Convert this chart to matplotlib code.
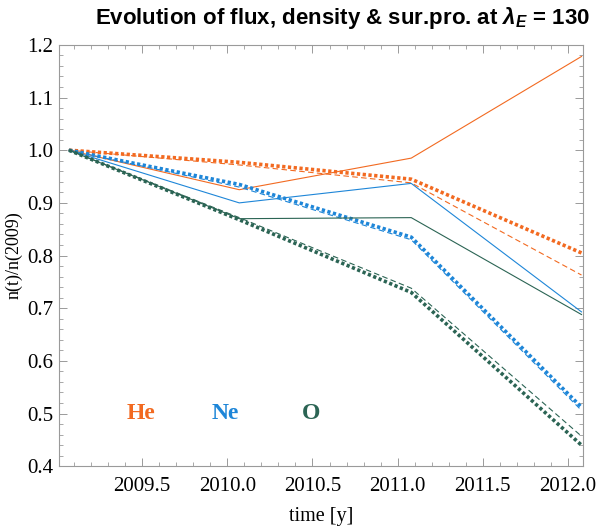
import matplotlib.pyplot as plt
from matplotlib.ticker import MultipleLocator

plt.rcParams['font.family'] = ['Liberation Serif', 'DejaVu Serif']
plt.rcParams['mathtext.fontset'] = 'custom'
plt.rcParams['mathtext.rm'] = 'Liberation Sans:bold'
plt.rcParams['mathtext.it'] = 'Liberation Sans:bold:italic'
plt.rcParams['mathtext.bf'] = 'Liberation Sans:bold'

# time of each observation
tiempos = [2009.07, 2010.07, 2011.08, 2012.08]

# He
he_flux = [1.0, 0.925, 0.985, 1.178]
he_dens = [1.0, 0.972, 0.938, 0.763]
he_surp = [1.0, 0.977, 0.945, 0.805]

# Ne
ne_flux = [1.0, 0.900, 0.937, 0.693]
ne_dens = [1.0, 0.930, 0.830, 0.506]
ne_surp = [1.0, 0.935, 0.835, 0.512]

# O
o_flux = [1.0, 0.870, 0.872, 0.688]
o_dens = [1.0, 0.872, 0.738, 0.457]
o_surp = [1.0, 0.868, 0.730, 0.440]

elementos = ['He', 'Ne', 'O']
colores = ['#F26A21', '#1E86D8', '#2B6454']
pos_etiqueta = [2009.49, 2009.99, 2010.49]

series = [
    (he_flux, he_dens, he_surp),
    (ne_flux, ne_dens, ne_surp),
    (o_flux, o_dens, o_surp),
]

fig = plt.figure(figsize=(6.0, 5.28), dpi=100)
ax = fig.add_axes([0.098, 0.117, 0.874, 0.798])

for (flux, dens, surp), color in zip(series, colores):
    ax.plot(tiempos, flux, color=color, lw=0.8)
    ax.plot(tiempos, dens, color=color, lw=0.8, linestyle=(0, (5, 3)))
    ax.plot(tiempos, surp, color=color, lw=2.6, linestyle=(0, (0.9, 0.7)))

for nombre, color, xpos in zip(elementos, colores, pos_etiqueta):
    ax.text(xpos, 0.5, nombre, color=color, fontsize=17, fontweight='bold',
            ha='center', va='center')

ax.set_xlim(2009.01, 2012.09)
ax.set_ylim(0.4, 1.2)
ax.xaxis.set_major_locator(MultipleLocator(0.5))
ax.xaxis.set_minor_locator(MultipleLocator(0.1))
ax.yaxis.set_major_locator(MultipleLocator(0.1))
ax.yaxis.set_minor_locator(MultipleLocator(0.02))
ax.xaxis.set_major_formatter(plt.FormatStrFormatter('%.1f'))
ax.yaxis.set_major_formatter(plt.FormatStrFormatter('%.1f'))

for s in ax.spines.values():
    s.set_color('#9a9a9a')
    s.set_linewidth(0.8)
ax.tick_params(which='both', direction='in', top=True, right=True,
               color='#9a9a9a', labelsize=15)
ax.tick_params(which='major', length=6, width=0.7)
ax.tick_params(which='minor', length=3, width=0.6)
ax.tick_params(axis='x', pad=7.5)
ax.tick_params(axis='y', pad=4)

ax.set_xlabel('time [y]', fontsize=14.5, labelpad=8)
ax.set_ylabel('n(t)/n(2009)', fontsize=13, labelpad=3)

fig.text(0.57, 0.965, r'Evolution of flux, density & sur.pro. at $\lambda_E$ = 130',
         ha='center', va='center', fontsize=16, fontweight='bold',
         family='Liberation Sans')

fig.savefig('out.png', dpi=100)
